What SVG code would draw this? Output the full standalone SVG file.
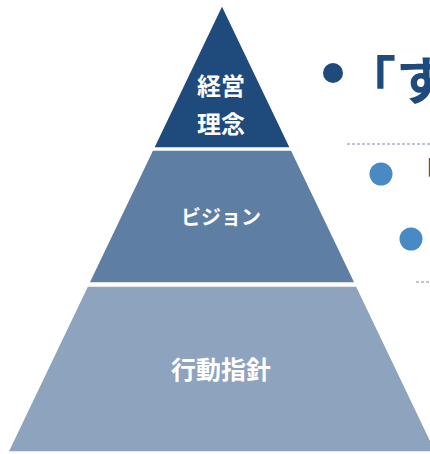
<svg xmlns="http://www.w3.org/2000/svg" width="430" height="454" viewBox="0 0 430 454">
<style>
.lbl{font-family:"Noto Sans CJK JP","Noto Sans",sans-serif;font-weight:bold;fill:#ffffff;text-anchor:middle}
.big{font-family:"Noto Sans CJK JP","Noto Sans",sans-serif;font-weight:bold;fill:#1f4a7c}
.dash{stroke:#7d8cab;stroke-width:1;stroke-dasharray:3 2;fill:none}
.lay{stroke:#ffffff;stroke-width:1.5}
</style>
<rect width="430" height="454" fill="#ffffff"/>
<g id="layer-top">
<polygon class="lay" points="222,5 290.5,148 153.5,148" fill="#1f4a7c"/>
<text class="lbl" x="221" y="95" font-size="24">経営</text>
<text class="lbl" x="221" y="133" font-size="24">理念</text>
</g>
<g id="layer-middle">
<polygon class="lay" points="152.5,150 291.5,150 355.2,283 88.8,283" fill="#5e7ea4"/>
<text class="lbl" x="221" y="225" font-size="20">ビジョン</text>
</g>
<g id="layer-bottom">
<polygon class="lay" points="87.4,286 356.6,286 436.1,452 7.9,452" fill="#8ea3be"/>
<text class="lbl" x="221" y="379" font-size="25">行動指針</text>
</g>
<g id="text-panel">
<circle cx="333" cy="73" r="10" fill="#1f4a7c"/>
<text class="big" x="344" y="100" font-size="52">「す</text>
<line class="dash" x1="347" y1="144" x2="430" y2="144"/>
<circle cx="381" cy="174" r="11.5" fill="#4a8ac4"/>
<text class="big" x="411" y="183" font-size="28" font-weight="normal">「</text>
<circle cx="411" cy="239" r="11.5" fill="#4a8ac4"/>
<line class="dash" x1="416" y1="282" x2="430" y2="282"/>
</g>
</svg>
